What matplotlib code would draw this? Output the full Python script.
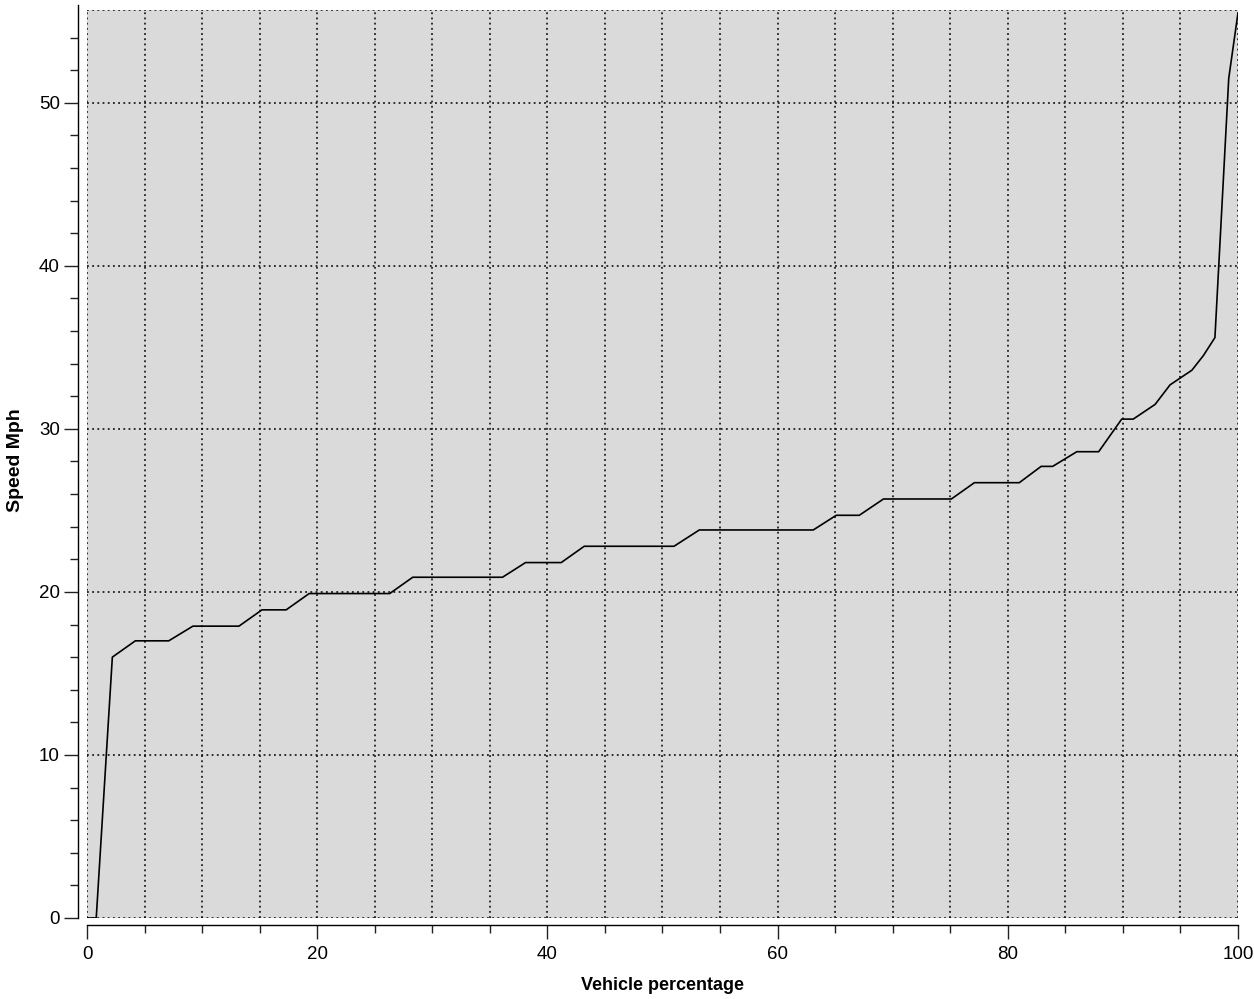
import matplotlib
matplotlib.use("Agg")
import matplotlib.pyplot as plt
from matplotlib.ticker import MultipleLocator

# Cumulative speed distribution
vehicle_pct = [0.0, 0.8, 2.2, 4.2, 7.1, 9.2, 13.2, 15.2, 17.3, 19.3, 26.3, 28.3,
               36.1, 38.1, 41.2, 43.2, 51.0, 53.2, 63.1, 65.1, 67.1, 69.2, 75.1,
               77.1, 81.0, 82.9, 83.9, 86.0, 87.9, 89.9, 90.9, 92.8, 94.1, 96.0,
               97.0, 98.0, 99.2, 100.0]
speed_mph = [0.0, 0.0, 16.0, 17.0, 17.0, 17.9, 17.9, 18.9, 18.9, 19.9, 19.9, 20.9,
             20.9, 21.8, 21.8, 22.8, 22.8, 23.8, 23.8, 24.7, 24.7, 25.7, 25.7,
             26.7, 26.7, 27.7, 27.7, 28.6, 28.6, 30.6, 30.6, 31.5, 32.7, 33.6,
             34.5, 35.6, 51.5, 55.5]

x_ticks = [0, 20, 40, 60, 80, 100]
y_ticks = [0, 10, 20, 30, 40, 50]

plt.rcParams['font.family'] = ['Liberation Sans', 'DejaVu Sans']

fig = plt.figure(figsize=(12.54, 9.99), dpi=100)
ax = fig.add_axes([0.0694, 0.0811, 0.9178, 0.909])
ax.set_facecolor('#dadada')

ax.plot(vehicle_pct, speed_mph, color='black', linewidth=1.2, zorder=3)

ax.set_xlim(0, 100)
ax.set_ylim(0, 55.7)
ax.set_xticks(x_ticks)
ax.set_yticks(y_ticks)
ax.xaxis.set_minor_locator(MultipleLocator(5))
ax.yaxis.set_minor_locator(MultipleLocator(2))
ax.tick_params(axis='both', which='major', length=10, width=1.0, labelsize=13.5,
               direction='out', color='#222222')
ax.tick_params(axis='both', which='minor', length=6, width=1.0, direction='out',
               color='#222222')
ax.tick_params(axis='y', pad=3)
ax.tick_params(axis='x', pad=5)

# grid: vertical every 5, horizontal every 10
for gx in range(0, 101, 5):
    ax.axvline(gx, color='black', linestyle=(0, (1.2, 2.2)), linewidth=1.1, zorder=2)
for gy in [0, 10, 20, 30, 40, 50]:
    ax.axhline(gy, color='black', linestyle=(0, (1.2, 2.2)), linewidth=1.1, zorder=2)
ax.axhline(55.7, color='black', linestyle=(0, (1.2, 2.2)), linewidth=1.1, zorder=2)

for s in ['top', 'right']:
    ax.spines[s].set_visible(False)
ax.spines['left'].set_position(('outward', 6.5))
ax.spines['bottom'].set_position(('outward', 5))
ax.spines['left'].set_linewidth(1.0)
ax.spines['bottom'].set_linewidth(1.0)
ax.spines['left'].set_bounds(0, 56)

ax.set_xlabel('Vehicle percentage', fontsize=13, fontweight='bold')
ax.set_ylabel('Speed Mph', fontsize=14, fontweight='bold')
ax.xaxis.set_label_coords(0.5, -0.065)
ax.yaxis.set_label_coords(-0.055, 0.504)

fig.savefig('out.png', dpi=100)
